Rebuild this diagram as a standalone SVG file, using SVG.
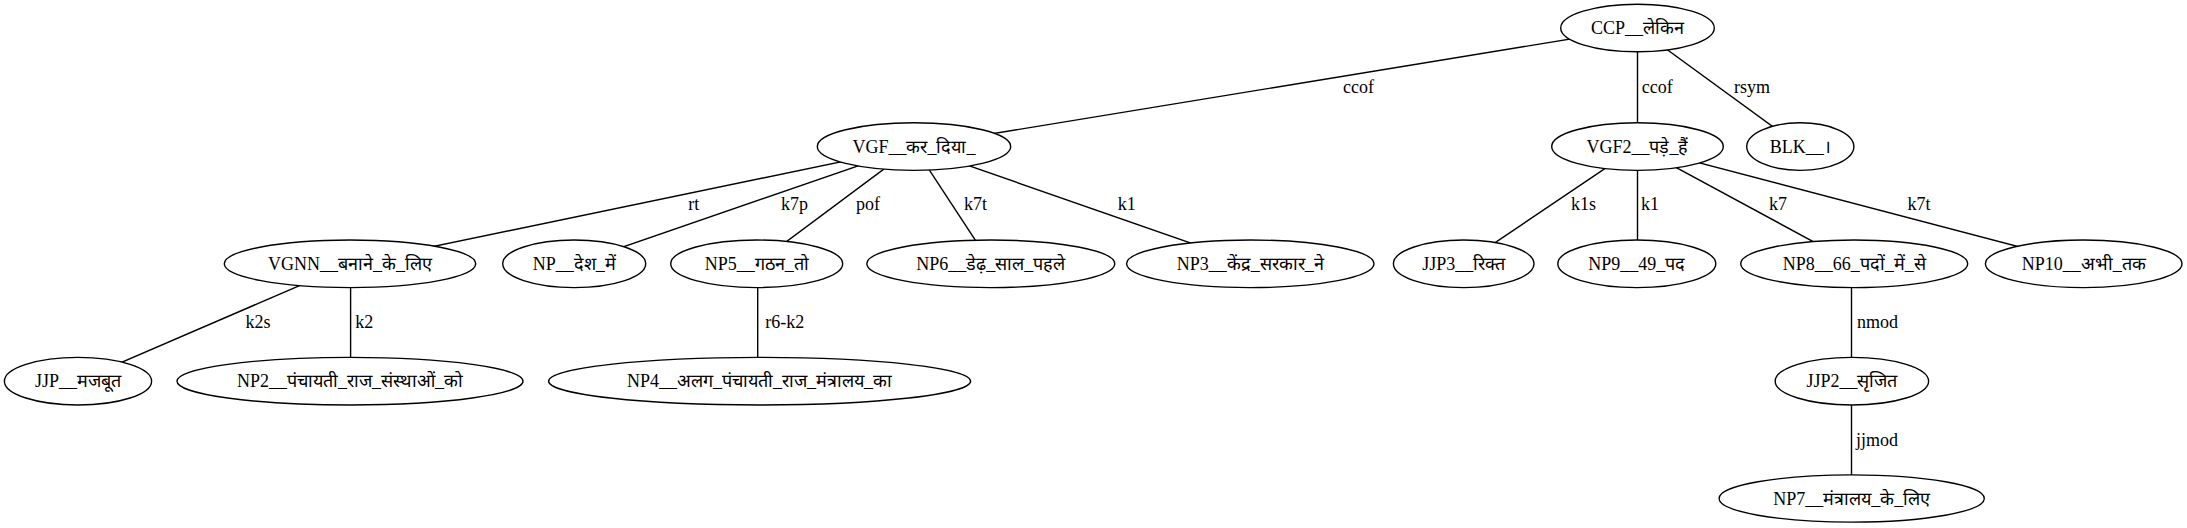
<svg xmlns="http://www.w3.org/2000/svg" width="2187" height="528" viewBox="0 0 2187 528">
<style>
.n ellipse{fill:#fff;stroke:#000;stroke-width:1.4}
.n text{font-family:"Liberation Serif",serif;font-size:18px;text-anchor:middle;fill:#000}
.e line{stroke:#000;stroke-width:1.4}
.e text{font-family:"Liberation Serif",serif;font-size:18px;fill:#000}
</style>
<rect width="2187" height="528" fill="#fff"/>
<g id="connectors" class="e">
<line x1="1637.5" y1="28" x2="914" y2="146.6"/>
<line x1="1637.5" y1="28" x2="1637.5" y2="146.6"/>
<line x1="1637.5" y1="28" x2="1800.3" y2="146.6"/>
<line x1="914" y1="146.6" x2="350" y2="263.8"/>
<line x1="914" y1="146.6" x2="574.2" y2="263.8"/>
<line x1="914" y1="146.6" x2="756.7" y2="263.8"/>
<line x1="914" y1="146.6" x2="990.8" y2="263.8"/>
<line x1="914" y1="146.6" x2="1250.3" y2="263.8"/>
<line x1="1637.5" y1="146.6" x2="1463.7" y2="263.8"/>
<line x1="1637.5" y1="146.6" x2="1637.5" y2="263.8"/>
<line x1="1637.5" y1="146.6" x2="1854.2" y2="263.8"/>
<line x1="1637.5" y1="146.6" x2="2083.7" y2="263.8"/>
<line x1="350" y1="263.8" x2="78" y2="381.2"/>
<line x1="350.6" y1="263.8" x2="350.6" y2="381.2"/>
<line x1="757.7" y1="263.8" x2="757.7" y2="381.2"/>
<line x1="1851.5" y1="263.8" x2="1851.5" y2="381.2"/>
<line x1="1851.5" y1="381.2" x2="1851.5" y2="498.5"/>
<text x="1343" y="93.3">ccof</text>
<text x="1641.7" y="93.3">ccof</text>
<text x="1734" y="93.3">rsym</text>
<text x="688.3" y="210">rt</text>
<text x="781" y="210">k7p</text>
<text x="856" y="210">pof</text>
<text x="964" y="210">k7t</text>
<text x="1117.7" y="210">k1</text>
<text x="1571" y="210">k1s</text>
<text x="1640.9" y="210">k1</text>
<text x="1769" y="210">k7</text>
<text x="1907.6" y="210">k7t</text>
<text x="245.5" y="328">k2s</text>
<text x="355.2" y="328">k2</text>
<text x="765.3" y="328">r6-k2</text>
<text x="1857.1" y="328">nmod</text>
<text x="1856" y="446">jjmod</text>
</g>
<g id="ccp" class="n"><ellipse cx="1637.5" cy="28" rx="76.8" ry="23.8"/><text x="1637.5" y="34">CCP__लेकिन</text></g>
<g id="vgf" class="n"><ellipse cx="914" cy="146.6" rx="96.7" ry="23.8"/><text x="914" y="152.6">VGF__कर_दिया_</text></g>
<g id="vgf2" class="n"><ellipse cx="1637.5" cy="146.6" rx="85.8" ry="23.8"/><text x="1637.5" y="152.6">VGF2__पड़े_हैं</text></g>
<g id="blk" class="n"><ellipse cx="1800.3" cy="146.6" rx="53.6" ry="23.8"/><text x="1800.3" y="152.6">BLK__।</text></g>
<g id="vgnn" class="n"><ellipse cx="350" cy="263.8" rx="125.7" ry="23.8"/><text x="350" y="269.8">VGNN__बनाने_के_लिए</text></g>
<g id="np" class="n"><ellipse cx="574.2" cy="263.8" rx="71.5" ry="23.8"/><text x="574.2" y="269.8">NP__देश_में</text></g>
<g id="np5" class="n"><ellipse cx="756.7" cy="263.8" rx="86" ry="23.8"/><text x="756.7" y="269.8">NP5__गठन_तो</text></g>
<g id="np6" class="n"><ellipse cx="990.8" cy="263.8" rx="124" ry="23.8"/><text x="990.8" y="269.8">NP6__डेढ़_साल_पहले</text></g>
<g id="np3" class="n"><ellipse cx="1250.3" cy="263.8" rx="123.7" ry="23.8"/><text x="1250.3" y="269.8">NP3__केंद्र_सरकार_ने</text></g>
<g id="jjp3" class="n"><ellipse cx="1463.7" cy="263.8" rx="70.3" ry="23.8"/><text x="1463.7" y="269.8">JJP3__रिक्त</text></g>
<g id="np9" class="n"><ellipse cx="1636.8" cy="263.8" rx="79" ry="23.8"/><text x="1636.8" y="269.8">NP9__49_पद</text></g>
<g id="np8" class="n"><ellipse cx="1854.2" cy="263.8" rx="113.5" ry="23.8"/><text x="1854.2" y="269.8">NP8__66_पदों_में_से</text></g>
<g id="np10" class="n"><ellipse cx="2083.7" cy="263.8" rx="98.3" ry="23.8"/><text x="2083.7" y="269.8">NP10__अभी_तक</text></g>
<g id="jjp" class="n"><ellipse cx="78" cy="381.2" rx="73.6" ry="23.8"/><text x="78" y="387.2">JJP__मजबूत</text></g>
<g id="np2" class="n"><ellipse cx="350" cy="381.2" rx="173" ry="23.8"/><text x="350" y="387.2">NP2__पंचायती_राज_संस्थाओं_को</text></g>
<g id="np4" class="n"><ellipse cx="759.6" cy="381.2" rx="211" ry="23.8"/><text x="759.6" y="387.2">NP4__अलग_पंचायती_राज_मंत्रालय_का</text></g>
<g id="jjp2" class="n"><ellipse cx="1851.9" cy="381.2" rx="76.7" ry="23.8"/><text x="1851.9" y="387.2">JJP2__सृजित</text></g>
<g id="np7" class="n"><ellipse cx="1851.7" cy="498.5" rx="132.6" ry="23.6"/><text x="1851.7" y="504.5">NP7__मंत्रालय_के_लिए</text></g>
</svg>
